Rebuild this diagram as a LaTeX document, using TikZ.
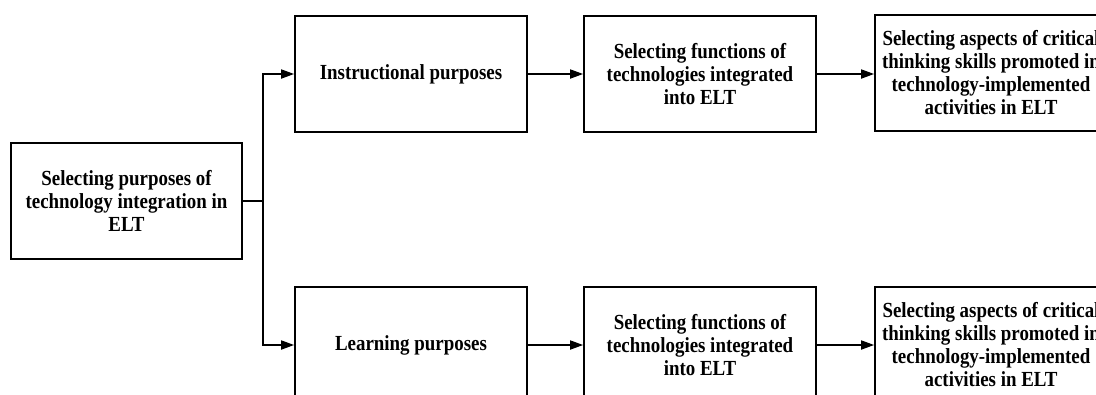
\documentclass[tikz,border=0pt]{standalone}
\usepackage{fontspec}
\setmainfont{Liberation Serif}[FakeStretch=0.88]
\usetikzlibrary{arrows.meta}
\begin{document}
\begin{tikzpicture}[x=1bp,y=-1bp,
  stagebox/.style={draw, line width=1.7bp, minimum width=232bp, minimum height=116bp,
    inner sep=0pt, align=center, font=\fontsize{21.5bp}{23bp}\selectfont\bfseries},
  flow/.style={line width=1.7bp, -{Triangle[length=13bp,width=9bp]}}]
\useasboundingbox (0,0) rectangle (1096,394);
\clip (0,0) rectangle (1096,394);
\fill[white] (0,0) rectangle (1096,394);

% source step
\node[stagebox, minimum width=231bp] (src) at (126.5,201)
  {Selecting purposes of\\technology integration in\\ELT};

% upper branch
\node[stagebox] (instr) at (411,74) {Instructional purposes};
\node[stagebox] (funcA) at (700,74)
  {Selecting functions of\\technologies integrated\\into ELT};
\node[stagebox] (critA) at (991,73)
  {Selecting aspects of critical\\thinking skills promoted in\\technology-implemented\\activities in ELT};

% lower branch
\node[stagebox] (learn) at (411,345) {Learning purposes};
\node[stagebox] (funcB) at (700,345)
  {Selecting functions of\\technologies integrated\\into ELT};
\node[stagebox] (critB) at (991,345)
  {Selecting aspects of critical\\thinking skills promoted in\\technology-implemented\\activities in ELT};

% split from the source
\coordinate (split) at ([xshift=20bp]src.east);
\draw[line width=1.7bp] (src.east) -- (split);
\draw[flow] (split) |- (instr.west);
\draw[flow] (split) |- (learn.west);

% chains
\draw[flow] (instr.east) -- (funcA.west);
\draw[flow] (funcA.east) -- (critA.west |- funcA.east);
\draw[flow] (learn.east) -- (funcB.west);
\draw[flow] (funcB.east) -- (critB.west);
\end{tikzpicture}
\end{document}
